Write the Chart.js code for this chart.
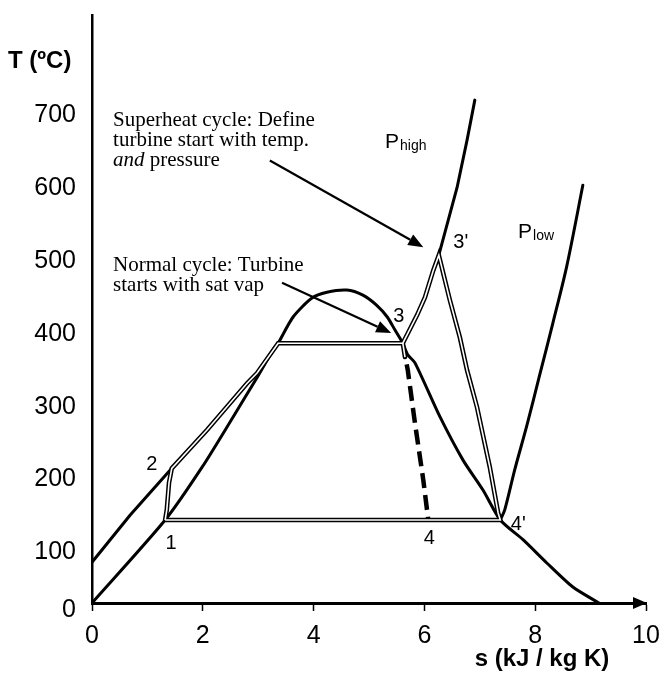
<!DOCTYPE html>
<html>
<head>
<meta charset="utf-8">
<script src="https://cdn.jsdelivr.net/npm/chart.js@4.4.1/dist/chart.umd.min.js"></script>
<style>
  html, body { margin: 0; padding: 0; background: #fff; }
  canvas { display: block; }
</style>
</head>
<body>
<canvas id="ts" width="661" height="675"></canvas>
<script>
// T-s diagram for water: saturation dome, two isobars, Rankine cycles
// s in kJ/kg K, T in ºC

// saturation curve (liquid side, dome, vapour side)
const satS = [0, 1.32, 1.99, 2.55, 2.98, 3.27, 3.36, 3.63, 3.97, 4.24, 4.60, 4.89, 5.14, 5.33, 5.47, 5.61, 5.70, 5.83, 6.28, 6.70, 7.06, 7.37, 7.78, 8.21, 8.68, 9.15];
const satT = [0, 114, 187, 256, 310, 348, 357, 393, 419, 427, 430, 423, 409, 393, 375, 357, 341, 330, 256, 196, 155, 114, 87, 55, 22, 0];

// high pressure isobar
const pHighS = [0, 0.69, 1.44, 2.08, 2.80, 2.98, 3.36, 5.61, 5.87, 6.01, 6.16, 6.26, 6.59, 6.77, 6.91];
const pHighT = [56, 121, 185, 238, 302, 316, 357, 357, 396, 420, 457, 478, 571, 636, 691];

// low pressure isobar (superheated part)
const pLowS = [7.37, 7.45, 7.63, 7.85, 8.08, 8.32, 8.57, 8.86];
const pLowT = [114, 128, 183, 244, 313, 385, 463, 574];

// superheat cycle 1-2-3-3'-4'-1
const cycleS = [1.32, 1.35, 1.39, 1.44, 2.08, 2.80, 2.98, 3.36, 5.61, 5.87, 6.01, 6.16, 6.26, 6.46, 6.64, 6.77, 6.95, 7.18, 7.33, 7.37, 1.32];
const cycleT = [114, 128, 165, 185, 238, 302, 316, 357, 357, 396, 420, 457, 478, 416, 365, 320, 269, 187, 124, 114, 114];

// short stub at 3 where the normal turbine starts
const stubS = [5.61, 5.65];
const stubT = [357, 338];

// normal cycle expansion 3 -> 4 (dashed)
const expS = [5.68, 5.70, 5.83, 5.98, 6.07];
const expT = [328, 320, 247, 169, 114];

// state points
const stateNames = ['1', '2', '3', "3'", '4', "4'"];
const stateS = [1.32, 1.44, 5.61, 6.26, 6.07, 7.37];
const stateT = [114, 185, 357, 478, 114, 114];

// axis ticks
const sTicks = [0, 2, 4, 6, 8, 10];
const tTicks = [0, 100, 200, 300, 400, 500, 600, 700];

const pts = (xs, ys) => xs.map((x, i) => ({ x: x, y: ys[i] }));

const SANS = '"Liberation Sans", Arial, sans-serif';
const SERIF = '"Liberation Serif", "Times New Roman", serif';

Chart.defaults.color = '#000';
Chart.defaults.font.family = SANS;

function curve(xs, ys, extra) {
    return Object.assign({
        data: pts(xs, ys),
        showLine: true,
        pointRadius: 0,
        borderColor: '#000',
        borderWidth: 3,
        tension: 0,
        fill: false,
        borderJoinStyle: 'round',
        borderCapStyle: 'round'
    }, extra);
}

// keep the plot area fixed, labels may hang outside it
function noPad(s) {
    s.paddingTop = 0;
    s.paddingBottom = 0;
    s.paddingLeft = 0;
    s.paddingRight = 0;
}

// labels, arrows and the axis arrow
const notes = {
    id: 'notes',
    afterDraw(chart) {
        const ctx = chart.ctx;
        const xs = chart.scales.x, ys = chart.scales.y;
        const px = v => xs.getPixelForValue(v);
        const py = v => ys.getPixelForValue(v);
        const area = chart.chartArea;

        ctx.save();
        ctx.fillStyle = '#000';
        ctx.strokeStyle = '#000';

        // arrow at the end of the s axis
        ctx.beginPath();
        ctx.moveTo(area.right + 1, area.bottom);
        ctx.lineTo(area.right - 13, area.bottom - 6);
        ctx.lineTo(area.right - 13, area.bottom + 6);
        ctx.closePath();
        ctx.fill();

        // axis titles
        ctx.font = 'bold 24px ' + SANS;
        ctx.textBaseline = 'middle';
        ctx.textAlign = 'left';
        ctx.fillText('T (ºC)', 8, 61);
        ctx.textAlign = 'center';
        ctx.fillText('s (kJ / kg K)', 542, 659);

        // state point numbers, offset from the point itself
        const offs = { '1': [6, 23], '2': [-20, -4], '3': [-4, -27], "3'": [22, -13], '4': [1, 18], "4'": [18, 4] };
        ctx.font = '20px ' + SANS;
        stateNames.forEach((n, i) => {
            const o = offs[n];
            ctx.fillText(n, px(stateS[i]) + o[0], py(stateT[i]) + o[1]);
        });

        // isobar names with subscripts
        function pName(sub, s, t) {
            const x = px(s), y = py(t);
            ctx.textAlign = 'left';
            ctx.textBaseline = 'alphabetic';
            ctx.font = '21px ' + SANS;
            ctx.fillText('P', x, y);
            const w = ctx.measureText('P').width;
            ctx.font = '14px ' + SANS;
            ctx.fillText(sub, x + w + 1, y + 2);
        }
        pName('high', 5.29, 625);
        pName('low', 7.69, 501);

        // annotation text
        ctx.textAlign = 'left';
        ctx.textBaseline = 'alphabetic';
        ctx.font = '21px ' + SERIF;
        let x0 = px(0.38), y0 = py(655);
        ctx.fillText('Superheat cycle: Define', x0, y0);
        ctx.fillText('turbine start with temp.', x0, y0 + 20);
        ctx.font = 'italic 21px ' + SERIF;
        ctx.fillText('and', x0, y0 + 40);
        const wAnd = ctx.measureText('and').width;
        ctx.font = '21px ' + SERIF;
        ctx.fillText(' pressure', x0 + wAnd, y0 + 40);

        y0 = py(456);
        ctx.fillText('Normal cycle: Turbine', x0, y0);
        ctx.fillText('starts with sat vap', x0, y0 + 20);

        function arrow(s1, t1, s2, t2) {
            const x1 = px(s1), y1 = py(t1), x2 = px(s2), y2 = py(t2);
            const a = Math.atan2(y2 - y1, x2 - x1);
            const len = 15, half = 6;
            const bx = x2 - len * Math.cos(a), by = y2 - len * Math.sin(a);
            ctx.lineWidth = 2.2;
            ctx.beginPath();
            ctx.moveTo(x1, y1);
            ctx.lineTo(bx, by);
            ctx.stroke();
            ctx.beginPath();
            ctx.moveTo(x2, y2);
            ctx.lineTo(bx + half * Math.sin(a), by - half * Math.cos(a));
            ctx.lineTo(bx - half * Math.sin(a), by + half * Math.cos(a));
            ctx.closePath();
            ctx.fill();
        }
        arrow(3.21, 608, 5.98, 489);
        arrow(3.43, 440, 5.40, 371);

        ctx.restore();
    }
};

new Chart(document.getElementById('ts'), {
    type: 'scatter',
    data: {
        datasets: [
            // white core of the double-line cycle paths (on top)
            curve(cycleS, cycleT, { borderColor: '#fff', borderWidth: 1.6, borderJoinStyle: 'miter', borderCapStyle: 'butt', order: 1 }),
            curve(stubS, stubT, { borderColor: '#fff', borderWidth: 1.6, borderCapStyle: 'butt', order: 1 }),
            // black outline of the double lines
            curve(cycleS, cycleT, { borderWidth: 4.6, borderJoinStyle: 'miter', order: 2 }),
            curve(stubS, stubT, { borderWidth: 4.6, order: 2 }),
            // 3 -> 4 expansion
            curve(expS, expT, { borderWidth: 4.5, borderDash: [15, 7], borderCapStyle: 'butt', order: 3 }),
            // property curves
            curve(satS, satT, { tension: 0.25, order: 4 }),
            curve(pHighS, pHighT, { order: 4 }),
            curve(pLowS, pLowT, { tension: 0.3, order: 4 })
        ]
    },
    options: {
        responsive: false,
        animation: false,
        layout: { padding: { top: 15, right: 15, left: 0, bottom: 0 } },
        plugins: {
            legend: { display: false },
            tooltip: { enabled: false }
        },
        scales: {
            x: {
                type: 'linear',
                min: 0,
                max: 10,
                afterBuildTicks: s => { s.ticks = sTicks.map(v => ({ value: v })); },
                afterFit: s => { s.height = 72; noPad(s); },
                grid: { drawOnChartArea: false, drawTicks: true, tickLength: 8, tickWidth: 1.5, color: '#000' },
                border: { display: true, color: '#000', width: 3 },
                ticks: { font: { size: 25 }, padding: 10, maxRotation: 0 }
            },
            y: {
                type: 'linear',
                min: 0,
                max: 808,
                afterBuildTicks: s => { s.ticks = tTicks.map(v => ({ value: v })); },
                afterFit: s => { s.width = 92; noPad(s); },
                grid: { display: false, drawTicks: false },
                border: { display: true, color: '#000', width: 2.5 },
                ticks: {
                    font: { size: 25 },
                    padding: 16,
                    labelOffset: 22,
                    // the 0 label sits closer to the axis than the others
                    callback: v => (v === 0 ? ['0', ''] : String(v))
                }
            }
        }
    },
    plugins: [notes]
});
</script>
</body>
</html>
